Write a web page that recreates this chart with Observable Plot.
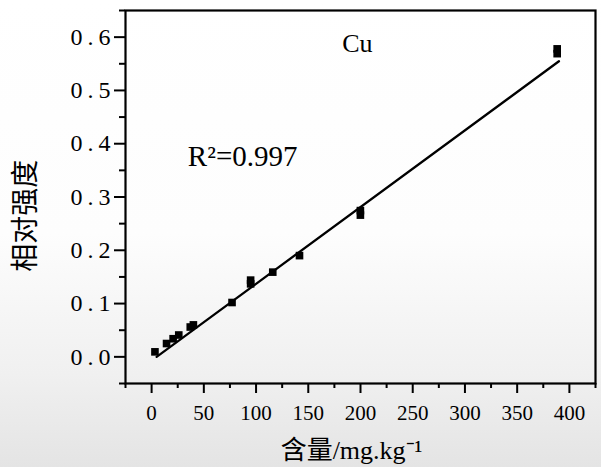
<!DOCTYPE html>
<html><head><meta charset="utf-8">
<script src="https://cdn.jsdelivr.net/npm/d3@7"></script>
<script src="https://cdn.jsdelivr.net/npm/@observablehq/plot@0.6"></script>
<style>
html,body{margin:0;padding:0;}
body{width:601px;height:467px;overflow:hidden;background:linear-gradient(to bottom,#ffffff 0%,#fdfdfd 50%,#f0f0f0 80%,#e4e4e4 100%);}
#chart svg{display:block;background:transparent;}
#chart svg text{font-family:"Liberation Serif","Noto Sans CJK SC",serif !important;}
#chart g[aria-label="y-axis tick label"] text{letter-spacing:5px;}
</style></head><body><div id="chart"></div>
<script>
// measured data (content mg/kg, relative intensity)
const content   = [3.2, 14.3, 20.6, 26, 37, 40, 77, 94.8, 94.8, 116, 141.6, 199.9, 199.9, 388.3, 388.3];
const intensity = [0.0094, 0.025, 0.034, 0.041, 0.056, 0.060, 0.102, 0.137, 0.144, 0.159, 0.190, 0.266, 0.2745, 0.569, 0.578];
// fitted line end points
const fitX = [4.8, 390];
const fitY = [0.0, 0.5547];
// ticks
const xMajor = [0, 50, 100, 150, 200, 250, 300, 350, 400];
const xMinor = [-25, 25, 75, 125, 175, 225, 275, 325, 375, 425];
const yMajor = [0, 0.1, 0.2, 0.3, 0.4, 0.5, 0.6];
const yMinor = [-0.05, 0.05, 0.15, 0.25, 0.35, 0.45, 0.55, 0.65];
const xLabel = "含量/mg.kg⁻¹";
const yLabel = "相对强度";
const element = "Cu";
const r2Label = "R²=0.997";

const pts = content.map((c, i) => ({x: c, y: intensity[i]}));
const fit = fitX.map((c, i) => ({x: c, y: fitY[i]}));
const serif = "Liberation Serif, Noto Sans CJK SC, serif";

const chart = Plot.plot({
  width: 601, height: 467,
  marginLeft: 125, marginRight: 6, marginTop: 10, marginBottom: 84,
  style: {fontFamily: serif, color: "#000", background: "transparent"},
  x: {domain: [-25, 425]},
  y: {domain: [-0.05, 0.65]},
  marks: [
    Plot.frame({stroke: "#000", strokeWidth: 2.2}),
    Plot.axisX(xMinor, {tickSize: 5, strokeWidth: 2, tickFormat: () => "", label: null}),
    Plot.axisX(xMajor, {tickSize: 10, strokeWidth: 2, tickPadding: 12, fontSize: 21, label: null}),
    Plot.axisY(yMinor, {tickSize: 6, strokeWidth: 2, tickFormat: () => "", label: null}),
    Plot.axisY(yMajor, {tickSize: 11, strokeWidth: 2, tickPadding: -1, fontSize: 24, tickFormat: d => d.toFixed(1), label: null}),
    Plot.line(fit, {x: "x", y: "y", stroke: "#000", strokeWidth: 2.3}),
    Plot.dot(pts, {x: "x", y: "y", symbol: "square", r: 4.3, fill: "#000", stroke: "none"}),
    Plot.text([element], {x: 197, y: 0.587, text: d => d, fontSize: 26, fill: "#000"}),
    Plot.text([r2Label], {x: 34.7, y: 0.3755, text: d => d, fontSize: 29, textAnchor: "start", fill: "#000", letterSpacing: "-1px"}),
    Plot.text([yLabel], {frameAnchor: "left", y: 0.265, dx: -99, rotate: -90, textAnchor: "middle", lineAnchor: "middle", text: d => d, fontSize: 28, fill: "#000"}),
    Plot.text([xLabel], {frameAnchor: "bottom", dx: -9, dy: 75, text: d => d, fontSize: 26, fill: "#000"})
  ]
});
document.getElementById("chart").appendChild(chart);
</script></body></html>
